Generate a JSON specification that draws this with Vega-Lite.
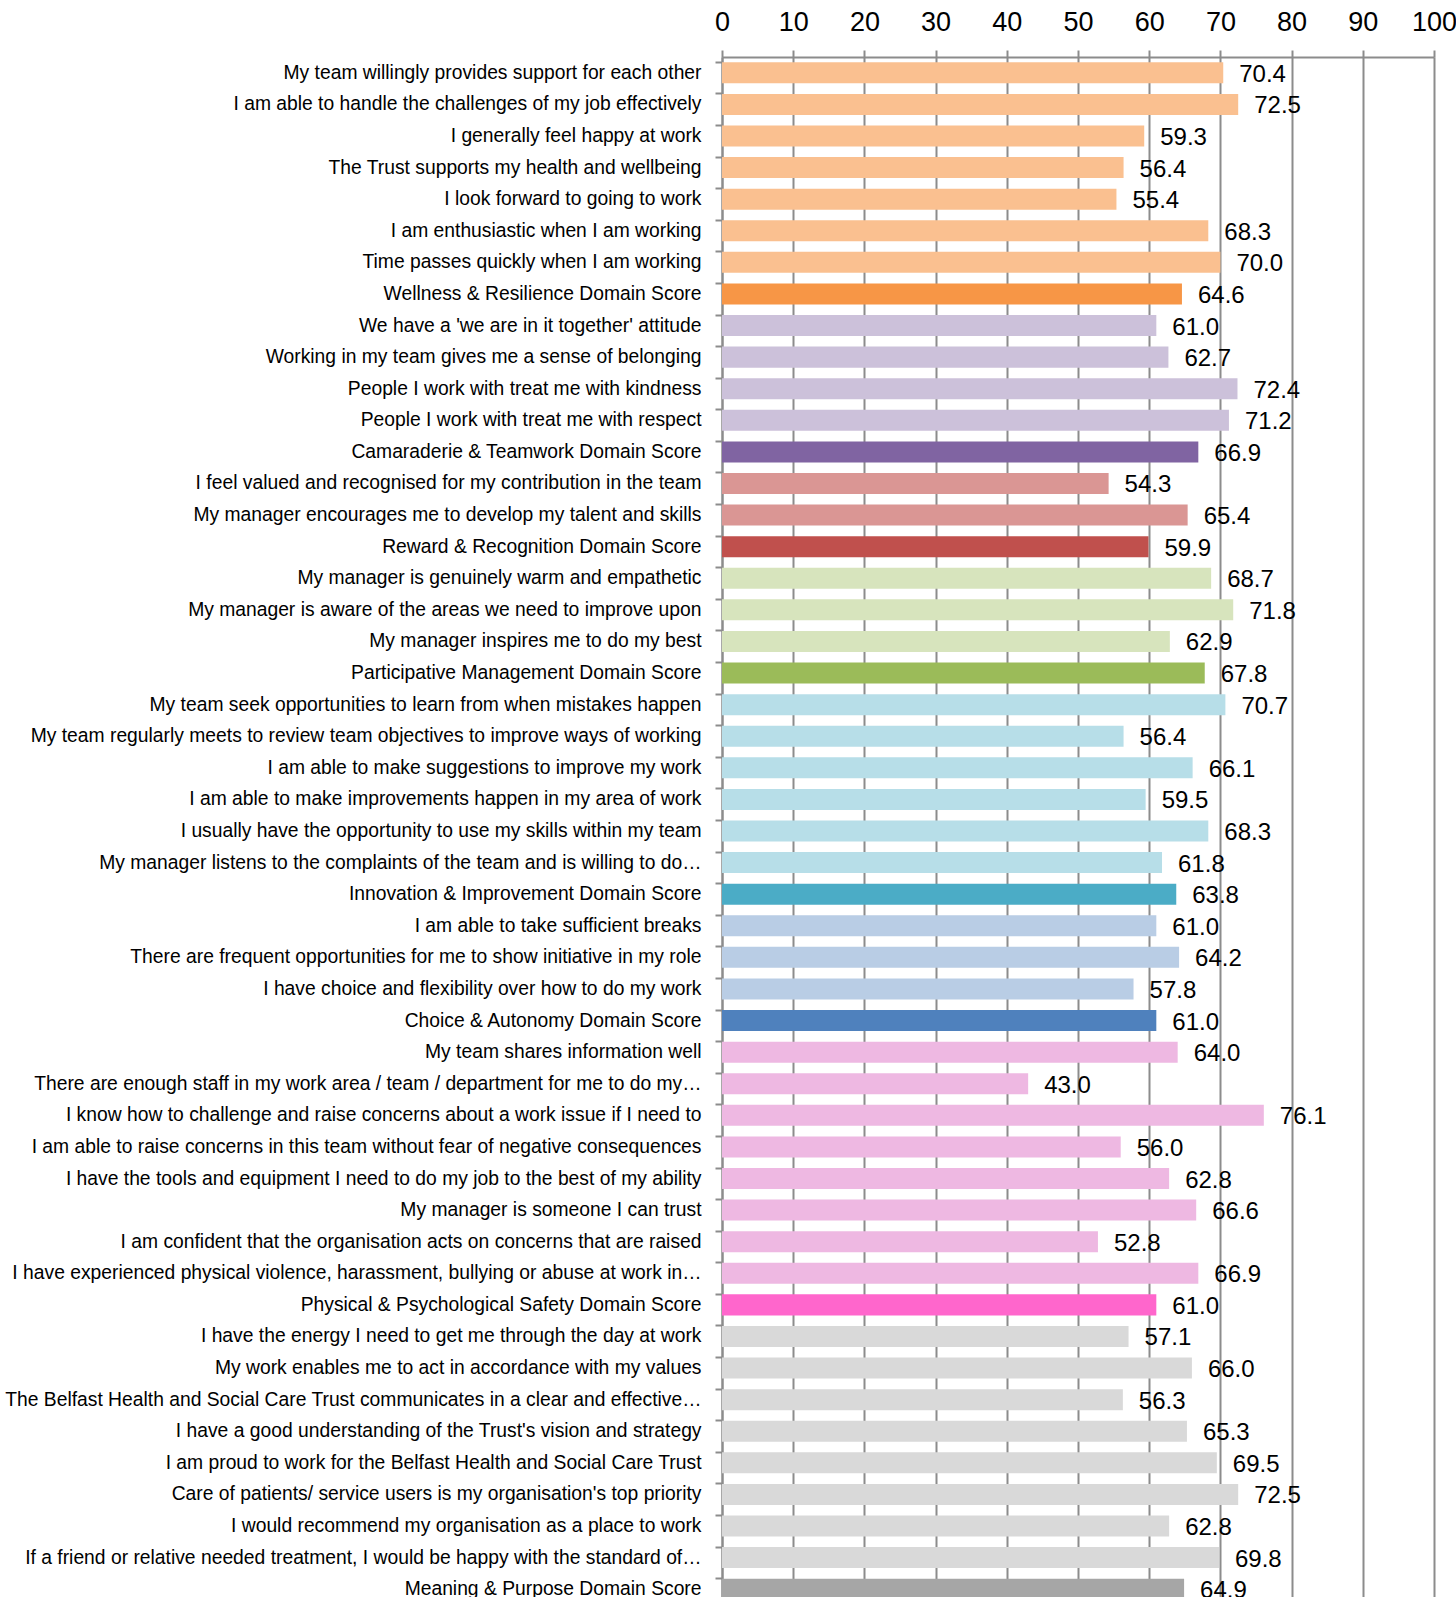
{
  "$schema": "https://vega.github.io/schema/vega-lite/v6.json",
  "autosize": {"type": "none"},
  "width": 712,
  "height": 1548,
  "padding": {"left": 722, "top": 57, "right": 22, "bottom": 0},
  "background": "white",
  "config": {
    "view": {"stroke": null},
    "font": "Liberation Sans"
  },
  "data": {
    "values": [
      {"label": "My team willingly provides support for each other", "value": 70.4, "cat": "W"},
      {"label": "I am able to handle the challenges of my job effectively", "value": 72.5, "cat": "W"},
      {"label": "I generally feel happy at work", "value": 59.3, "cat": "W"},
      {"label": "The Trust supports my health and wellbeing", "value": 56.4, "cat": "W"},
      {"label": "I look forward to going to work", "value": 55.4, "cat": "W"},
      {"label": "I am enthusiastic when I am working", "value": 68.3, "cat": "W"},
      {"label": "Time passes quickly when I am working", "value": 70.0, "cat": "W"},
      {"label": "Wellness & Resilience Domain Score", "value": 64.6, "cat": "WD"},
      {"label": "We have a 'we are in it together' attitude", "value": 61.0, "cat": "C"},
      {"label": "Working in my team gives me a sense of belonging", "value": 62.7, "cat": "C"},
      {"label": "People I work with treat me with kindness", "value": 72.4, "cat": "C"},
      {"label": "People I work with treat me with respect", "value": 71.2, "cat": "C"},
      {"label": "Camaraderie & Teamwork Domain Score", "value": 66.9, "cat": "CD"},
      {"label": "I feel valued and recognised for my contribution in the team", "value": 54.3, "cat": "R"},
      {"label": "My manager encourages me to develop my talent and skills", "value": 65.4, "cat": "R"},
      {"label": "Reward & Recognition Domain Score", "value": 59.9, "cat": "RD"},
      {"label": "My manager is genuinely warm and empathetic", "value": 68.7, "cat": "P"},
      {"label": "My manager is aware of the areas we need to improve upon", "value": 71.8, "cat": "P"},
      {"label": "My manager inspires me to do my best", "value": 62.9, "cat": "P"},
      {"label": "Participative Management Domain Score", "value": 67.8, "cat": "PD"},
      {"label": "My team seek opportunities to learn from when mistakes happen", "value": 70.7, "cat": "I"},
      {"label": "My team regularly meets to review team objectives to improve ways of working", "value": 56.4, "cat": "I"},
      {"label": "I am able to make suggestions to improve my work", "value": 66.1, "cat": "I"},
      {"label": "I am able to make improvements happen in my area of work", "value": 59.5, "cat": "I"},
      {"label": "I usually have the opportunity to use my skills within my team", "value": 68.3, "cat": "I"},
      {"label": "My manager listens to the complaints of the team and is willing to do…", "value": 61.8, "cat": "I"},
      {"label": "Innovation & Improvement Domain Score", "value": 63.8, "cat": "ID"},
      {"label": "I am able to take sufficient breaks", "value": 61.0, "cat": "A"},
      {"label": "There are frequent opportunities for me to show initiative in my role", "value": 64.2, "cat": "A"},
      {"label": "I have choice and flexibility over how to do my work", "value": 57.8, "cat": "A"},
      {"label": "Choice & Autonomy Domain Score", "value": 61.0, "cat": "AD"},
      {"label": "My team shares information well", "value": 64.0, "cat": "S"},
      {"label": "There are enough staff in my work area / team / department for me to do my…", "value": 43.0, "cat": "S"},
      {"label": "I know how to challenge and raise concerns about a work issue if I need to", "value": 76.1, "cat": "S"},
      {"label": "I am able to raise concerns in this team without fear of negative consequences", "value": 56.0, "cat": "S"},
      {"label": "I have the tools and equipment I need to do my job to the best of my ability", "value": 62.8, "cat": "S"},
      {"label": "My manager is someone I can trust", "value": 66.6, "cat": "S"},
      {"label": "I am confident that the organisation acts on concerns that are raised", "value": 52.8, "cat": "S"},
      {"label": "I have experienced physical violence, harassment, bullying or abuse at work in…", "value": 66.9, "cat": "S"},
      {"label": "Physical & Psychological Safety Domain Score", "value": 61.0, "cat": "SD"},
      {"label": "I have the energy I need to get me through the day at work", "value": 57.1, "cat": "M"},
      {"label": "My work enables me to act in accordance with my values", "value": 66.0, "cat": "M"},
      {"label": "The Belfast Health and Social Care Trust communicates in a clear and effective…", "value": 56.3, "cat": "M"},
      {"label": "I have a good understanding of the Trust's vision and strategy", "value": 65.3, "cat": "M"},
      {"label": "I am proud to work for the Belfast Health and Social Care Trust", "value": 69.5, "cat": "M"},
      {"label": "Care of patients/ service users is my organisation's top priority", "value": 72.5, "cat": "M"},
      {"label": "I would recommend my organisation as a place to work", "value": 62.8, "cat": "M"},
      {"label": "If a friend or relative needed treatment, I would be happy with the standard of…", "value": 69.8, "cat": "M"},
      {"label": "Meaning & Purpose Domain Score", "value": 64.9, "cat": "MD"}
    ]
  },
  "encoding": {
    "y": {
      "field": "label",
      "type": "nominal",
      "sort": null,
      "scale": {"paddingInner": 0.335, "paddingOuter": 0.1675},
      "axis": {
        "title": null,
        "bandPosition": 0,
        "domainColor": "#8c8c8c",
        "domainWidth": 2,
        "tickColor": "#8c8c8c",
        "tickWidth": 2,
        "tickSize": 7,
        "labelPadding": 14,
        "labelFontSize": 19.3,
        "labelColor": "#000000",
        "labelLimit": 0
      }
    },
    "x": {
      "field": "value",
      "type": "quantitative",
      "scale": {"domain": [0, 100], "nice": false},
      "axis": {
        "orient": "top",
        "title": null,
        "values": [0, 10, 20, 30, 40, 50, 60, 70, 80, 90, 100],
        "grid": true,
        "gridColor": "#8c8c8c",
        "gridWidth": 2,
        "domainColor": "#8c8c8c",
        "domainWidth": 2,
        "tickColor": "#8c8c8c",
        "tickWidth": 2,
        "tickSize": 7,
        "labelPadding": 14,
        "labelFontSize": 27,
        "labelColor": "#000000",
        "labelFlush": false
      }
    }
  },
  "layer": [
    {
      "mark": {"type": "bar"},
      "encoding": {
        "color": {
          "field": "cat",
          "type": "nominal",
          "legend": null,
          "scale": {
            "domain": ["W", "WD", "C", "CD", "R", "RD", "P", "PD", "I", "ID", "A", "AD", "S", "SD", "M", "MD"],
            "range": ["#FAC090", "#F79646", "#CCC1DA", "#8064A2", "#DA9694", "#C0504D", "#D7E4BD", "#9BBB59", "#B7DEE8", "#4BACC6", "#B9CDE5", "#4F81BD", "#EEB8E2", "#FF66CC", "#D9D9D9", "#A6A6A6"]
          }
        }
      }
    },
    {
      "mark": {"type": "text", "align": "left", "baseline": "middle", "dx": 16, "dy": 2, "fontSize": 24, "color": "#000000"},
      "encoding": {
        "text": {"field": "value", "type": "quantitative", "format": ".1f"}
      }
    }
  ]
}
